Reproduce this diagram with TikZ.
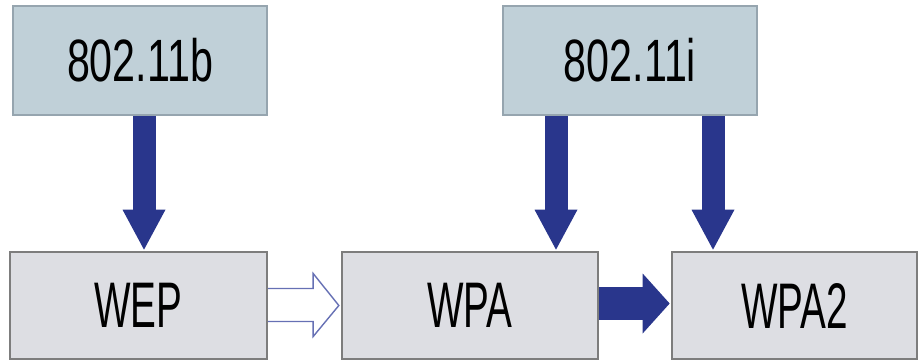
\documentclass[tikz,border=0pt]{standalone}
\usepackage{fontspec}
\setmainfont{Liberation Sans}
\newfontfamily\stdfont[FakeStretch=0.69]{Liberation Sans}
\newfontfamily\secfont[FakeStretch=0.6]{Liberation Sans}
\usetikzlibrary{arrows.meta,calc}
\definecolor{stdfill}{RGB}{192,208,216}
\definecolor{stddraw}{RGB}{150,165,175}
\definecolor{secfill}{RGB}{221,222,227}
\definecolor{secdraw}{RGB}{125,125,125}
\definecolor{arrblue}{RGB}{41,54,140}
\definecolor{openblue}{RGB}{102,112,180}

\begin{document}
\begin{tikzpicture}[x=0.03cm, y=-0.03cm,
  stdbox/.style={draw=stddraw, fill=stdfill, line width=2.2pt, minimum width=7.62cm, minimum height=3.27cm, inner sep=0pt, font=\stdfont\fontsize{51}{51}\selectfont},
  secbox/.style={draw=secdraw, fill=secfill, line width=2pt, minimum height=3.21cm, inner sep=0pt, font=\secfont\fontsize{55}{55}\selectfont},
  downarrow/.style={arrblue, line width=0.69cm, shorten >=1pt, -{Triangle[width=1.29cm, length=1.2cm, line width=0pt]}},
  flowarrow/.style={arrblue, line width=0.99cm, shorten >=1pt, -{Triangle[width=1.8cm, length=0.81cm, line width=0pt]}},
  openarrow/.style={openblue, line width=1.2pt, line join=miter}]
\useasboundingbox (0,0) rectangle (919,363);
\coordinate (xb) at (144,0);
\coordinate (xi1) at (556,0);
\coordinate (xi2) at (713,0);
\node[stdbox] (std b) at (140,60.5) {802.11b};
\node[stdbox] (std i) at (630,60.5) {802.11i};
\node[secbox, minimum width=7.71cm] (wep) at (138.5,305.5) {WEP};
\node[secbox, minimum width=7.68cm] (wpa) at (470,305.5) {WPA};
\node[secbox, minimum width=7.35cm] (wpa2) at (794.5,305.5) {WPA2};
\draw[downarrow] (std b.south -| xb) -- (wep.north -| xb);
\draw[downarrow] (std i.south -| xi1) -- (wpa.north -| xi1);
\draw[downarrow] (std i.south -| xi2) -- (wpa2.north -| xi2);
\draw[flowarrow] ($(wpa.east)+(0,-2)$) -- ($(wpa2.west)+(0,-2)$);
\draw[openarrow] ($(wep.east)+(0,-17)$) -- ++(45,0) -- ++(0,-15) -- ($(wpa.west)+(-2,0)$)
  -- ($(wep.east)+(45,31)$) -- ++(0,-15) -- ++(-45,0);
\end{tikzpicture}
\end{document}
